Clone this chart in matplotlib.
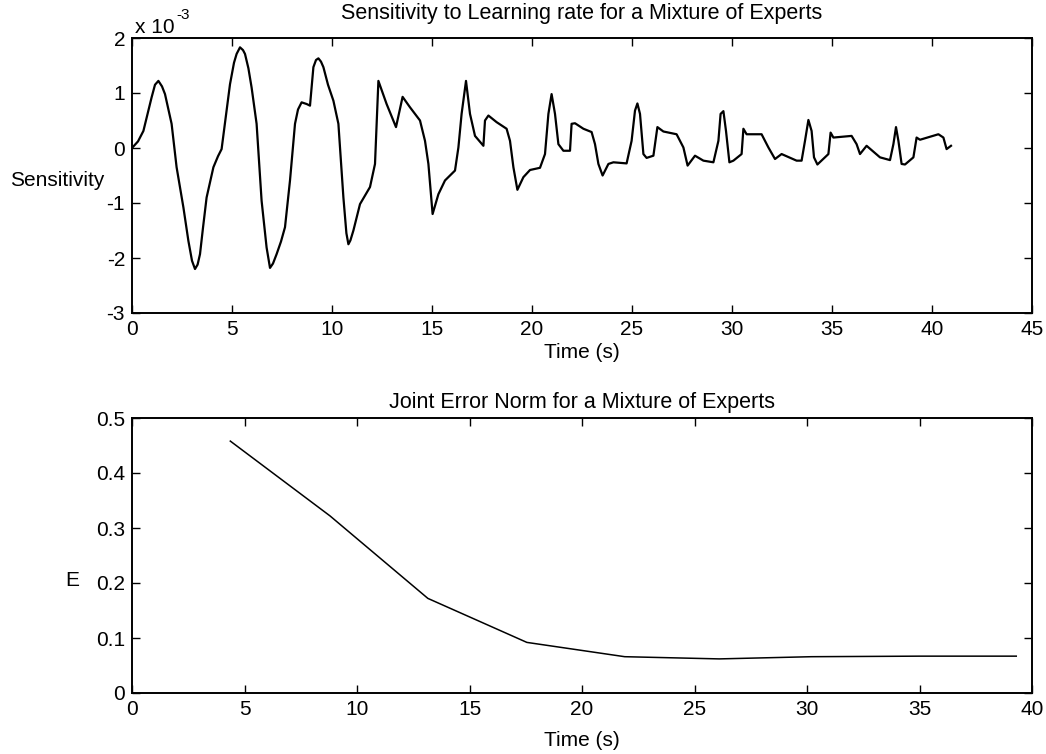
import matplotlib
matplotlib.use("Agg")
import matplotlib.pyplot as plt

plt.rcParams['font.family'] = ['Liberation Sans', 'DejaVu Sans']
plt.rcParams['axes.unicode_minus'] = False

# Sensitivity trace (units of 1e-3)
sens_t = [0.0, 0.3, 0.57, 0.8, 0.98, 1.15, 1.32, 1.5, 1.65, 1.98, 2.23, 2.57, 2.82, 3.0, 3.15,
          3.28, 3.4, 3.55, 3.73, 4.07, 4.3, 4.48, 4.7, 4.9, 5.1, 5.23, 5.4, 5.55, 5.65, 5.82,
          5.98, 6.23, 6.48, 6.73, 6.9, 7.05, 7.23, 7.45, 7.65, 7.9, 8.15, 8.3, 8.48, 8.73, 8.9,
          9.07, 9.2, 9.32, 9.45, 9.57, 9.8, 10.07, 10.32, 10.57, 10.72, 10.82, 10.92, 11.07,
          11.4, 11.9, 12.15, 12.32, 12.73, 13.2, 13.53, 13.9, 14.4, 14.65, 14.82, 15.03, 15.32,
          15.65, 16.15, 16.32, 16.48, 16.7, 16.9, 17.15, 17.57, 17.65, 17.82, 18.23, 18.73,
          18.9, 19.07, 19.27, 19.57, 19.9, 20.4, 20.65, 20.82, 20.98, 21.15, 21.32, 21.57,
          21.9, 21.98, 22.15, 22.57, 22.98, 23.15, 23.32, 23.53, 23.82, 24.07, 24.73, 24.98,
          25.15, 25.27, 25.4, 25.57, 25.73, 26.07, 26.27, 26.57, 27.23, 27.57, 27.78, 28.15,
          28.57, 29.07, 29.32, 29.43, 29.57, 29.7, 29.87, 30.07, 30.48, 30.57, 30.73, 31.48,
          31.82, 32.15, 32.48, 33.23, 33.48, 33.65, 33.82, 33.98, 34.1, 34.27, 34.65, 34.82,
          34.93, 35.07, 35.98, 36.23, 36.4, 36.73, 37.4, 37.9, 38.07, 38.2, 38.32, 38.48,
          38.65, 39.07, 39.23, 39.4, 40.32, 40.57, 40.73, 40.95]
sens_val = [0.0, 0.12, 0.31, 0.65, 0.92, 1.15, 1.22, 1.12, 0.98, 0.44, -0.35, -1.08, -1.69,
            -2.05, -2.2, -2.12, -1.93, -1.45, -0.9, -0.35, -0.15, -0.02, 0.6, 1.16, 1.55, 1.71,
            1.83, 1.78, 1.71, 1.45, 1.1, 0.44, -0.96, -1.81, -2.18, -2.1, -1.93, -1.7, -1.44,
            -0.59, 0.44, 0.7, 0.83, 0.8, 0.77, 1.47, 1.6, 1.63, 1.57, 1.47, 1.15, 0.86, 0.44,
            -0.9, -1.55, -1.75, -1.68, -1.5, -1.02, -0.71, -0.29, 1.22, 0.8, 0.38, 0.93, 0.74,
            0.5, 0.13, -0.29, -1.2, -0.84, -0.59, -0.41, 0.01, 0.62, 1.22, 0.62, 0.22, 0.04,
            0.5, 0.59, 0.47, 0.35, 0.13, -0.35, -0.76, -0.53, -0.4, -0.36, -0.11, 0.62, 0.98,
            0.62, 0.07, -0.05, -0.05, 0.44, 0.45, 0.35, 0.29, 0.07, -0.29, -0.5, -0.29, -0.26,
            -0.28, 0.13, 0.68, 0.81, 0.62, -0.11, -0.18, -0.14, 0.38, 0.3, 0.25, 0.01, -0.32,
            -0.14, -0.23, -0.26, 0.13, 0.62, 0.67, 0.31, -0.26, -0.23, -0.11, 0.35, 0.25, 0.25,
            0.01, -0.2, -0.11, -0.23, -0.23, 0.13, 0.51, 0.31, -0.17, -0.3, -0.17, -0.11, 0.28,
            0.19, 0.22, 0.07, -0.11, 0.04, -0.17, -0.22, 0.07, 0.38, 0.13, -0.29, -0.3, -0.17,
            0.19, 0.15, 0.25, 0.19, -0.02, 0.04]

# Joint error norm
err_t = [4.37, 8.8, 13.15, 17.55, 21.9, 26.1, 30.2, 35.0, 39.3]
err_val = [0.458, 0.322, 0.172, 0.092, 0.066, 0.062, 0.066, 0.067, 0.067]

W, H = 1046, 754
FS = 15
fig = plt.figure(figsize=(W / 100, H / 100), dpi=100)


def fx(px):
    return px / W


def fy(py):
    return 1 - py / H


ax1 = fig.add_axes([fx(132), fy(313), fx(1032) - fx(132), fy(38) - fy(313)])
ax2 = fig.add_axes([fx(132), fy(693), fx(1032) - fx(132), fy(418) - fy(693)])

ax1.plot(sens_t, sens_val, color='black', lw=1.6, solid_joinstyle='round')
ax1.set_xlim(0, 45)
ax1.set_ylim(-3, 2)
ax1.set_xticks(range(0, 46, 5))
ax1.set_yticks(range(-3, 3))

ax2.plot(err_t, err_val, color='black', lw=1.1)
ax2.set_xlim(0, 40)
ax2.set_ylim(0, 0.5)
ax2.set_xticks(range(0, 41, 5))
ax2.set_yticks([0, 0.1, 0.2, 0.3, 0.4, 0.5])
ax2.set_yticklabels(['0', '0.1', '0.2', '0.3', '0.4', '0.5'])

for ax in (ax1, ax2):
    ax.tick_params(direction='in', top=True, right=True, length=6, width=1,
                   labelsize=FS, pad=5)
    for sp in ax.spines.values():
        sp.set_linewidth(1.4)

ax1.set_xlabel('Time (s)', fontsize=FS, labelpad=3)
ax2.set_xlabel('Time (s)', fontsize=FS, labelpad=9)

fig.text(fx(582), fy(14), 'Sensitivity to Learning rate for a Mixture of Experts',
         ha='center', va='center', fontsize=FS + 0.5)
fig.text(fx(582), fy(403), 'Joint Error Norm for a Mixture of Experts',
         ha='center', va='center', fontsize=FS + 0.5)
fig.text(fx(10), fy(180), 'Sensitivity', ha='left', va='center', fontsize=FS)
fig.text(fx(72), fy(580), 'E', ha='center', va='center', fontsize=FS)

# scale factor label, MATLAB style with a plain hyphen in the exponent
fig.text(fx(135), fy(33), 'x 10', ha='left', va='baseline', fontsize=FS)
fig.text(fx(176), fy(19), '-3', ha='left', va='baseline', fontsize=11)

fig.savefig('out.png', dpi=100)
